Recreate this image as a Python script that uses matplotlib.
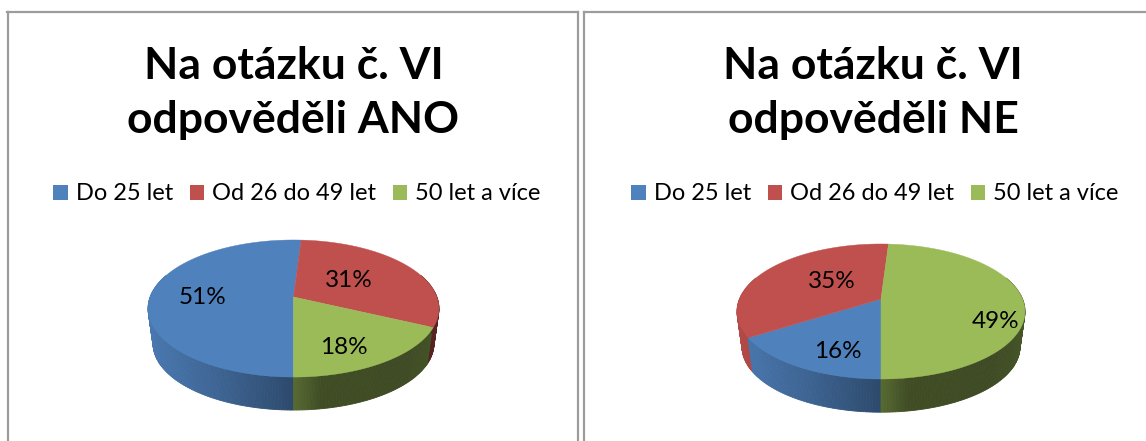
import numpy as np
import matplotlib
matplotlib.use("Agg")
import matplotlib.pyplot as plt
from matplotlib.patches import Patch

plt.rcParams['font.family'] = ['Lato', 'DejaVu Sans']

# ---- data ----
categories = ["Do 25 let", "Od 26 do 49 let", "50 let a více"]
values_ano = [51, 31, 18]
values_ne = [16, 35, 49]
title_ano = "Na otázku č. VI\nodpověděli ANO"
title_ne = "Na otázku č. VI\nodpověděli NE"

# ---- style ----
colors = ["#4f81bd", "#c0504d", "#9bbb59"]
W, H = 1146, 441
FRAME = "#9c9c9c"
shade_u = [-1.0, -0.5, -0.02, 0.0, 0.2, 0.8, 1.0]
shade_v = [0.93, 0.77, 0.58, 0.57, 0.41, 0.40, 0.45]


def project(theta, p, scale=1.0, drop=0.0):
    """Perspective projection of the unit circle onto pixel coordinates."""
    x, y = np.cos(theta), np.sin(theta)
    d = 1 + p["k"] * y
    return (p["cx"] + scale * p["a"] * x / d,
            p["cy"] + drop - scale * p["b"] * y / d)


def slice_edges(values, start_deg=270.0):
    # slices run clockwise from six o'clock
    frac = np.cumsum([0] + list(values)) / float(sum(values))
    return np.deg2rad(start_deg - 360 * frac)


def draw_chart(ax, values, title, p, title_x, legend_x, nudges):
    edges = slice_edges(values)
    hw = p["a"] / np.sqrt(1 - p["k"] ** 2)

    # side wall
    steps = np.deg2rad(np.arange(-200, 21, 1.0))
    for t0, t1 in zip(steps[:-1], steps[1:]):
        tm = 0.5 * (t0 + t1)
        col = 0
        for i in range(len(values)):
            lo, hi = edges[i + 1], edges[i]
            if (lo <= tm <= hi) or (lo <= tm + 2 * np.pi <= hi) or (lo <= tm - 2 * np.pi <= hi):
                col = i
                break
        xa, ya = project(np.array([t0, t1]), p)
        xb, yb = project(np.array([t1, t0]), p, p["s"], p["d"])
        xm = project(tm, p)[0]
        f = np.interp((xm - p["cx"]) / hw, shade_u, shade_v)
        rgb = np.array(matplotlib.colors.to_rgb(colors[col])) * f
        ax.fill(np.r_[xa, xb], np.r_[ya, yb], color=rgb, lw=0.6, zorder=2)

    # top face
    for i, v in enumerate(values):
        th = np.linspace(edges[i], edges[i + 1], 200)
        xs, ys = project(th, p)
        ax.fill(np.r_[p["cx"], xs], np.r_[p["cy"], ys], color=colors[i], lw=0.3, zorder=3)
        mid = 0.5 * (edges[i] + edges[i + 1])
        x_, y_ = 0.6 * np.cos(mid), 0.6 * np.sin(mid)
        den = 1 + p["k"] * y_
        lx = p["cx"] + p["a"] * x_ / den + nudges[i][0]
        ly = p["cy"] - p["b"] * y_ / den + nudges[i][1]
        ax.text(lx, ly, f"{v}%", ha="center", va="center", fontsize=17.5, color="black", zorder=4)

    ax.text(title_x, 93, title, ha="center", va="center", fontsize=32, fontweight="bold",
            linespacing=1.41, color="black")

    handles = [Patch(facecolor=c, edgecolor="none", label=n) for c, n in zip(colors, categories)]
    ax.legend(handles=handles, loc="center", bbox_to_anchor=(legend_x, 194),
              bbox_transform=ax.transData, ncol=3, frameon=False, fontsize=17,
              handlelength=0.6, handleheight=0.6, handletextpad=0.34, columnspacing=0.72,
              borderpad=0, borderaxespad=0)


def panel(fig, x0, x1, y0):
    # axes extend past the figure's bottom/right so only visible borders show
    ax = fig.add_axes([x0 / W, -0.05, (x1 - x0) / W, (H * 1.05 - y0) / H])
    ax.set_xlim(x0, x1)
    ax.set_ylim(H * 1.05, y0)
    ax.set_xticks([])
    ax.set_yticks([])
    for s in ax.spines.values():
        s.set_color(FRAME)
        s.set_linewidth(1.6)
    return ax


fig = plt.figure(figsize=(W / 100, H / 100), dpi=100, facecolor="white")

ax1 = panel(fig, 7.5, 577.5, 12)
ax2 = panel(fig, 583.5, 1200, 12)

p1 = dict(cx=293.5, cy=297, a=143.4, b=66.6, k=0.168, s=0.965, d=35.8)
p2 = dict(cx=881, cy=299, a=141.5, b=65.2, k=0.185, s=0.965, d=36.0)

draw_chart(ax1, values_ano, title_ano, p1, 293.5, 297, [(-5, 2), (-15, 3), (0, 14)])
draw_chart(ax2, values_ne, title_ne, p2, 873, 875, [(2, 15), (20, 1), (29, 21)])

fig.savefig("out.png", dpi=100)
